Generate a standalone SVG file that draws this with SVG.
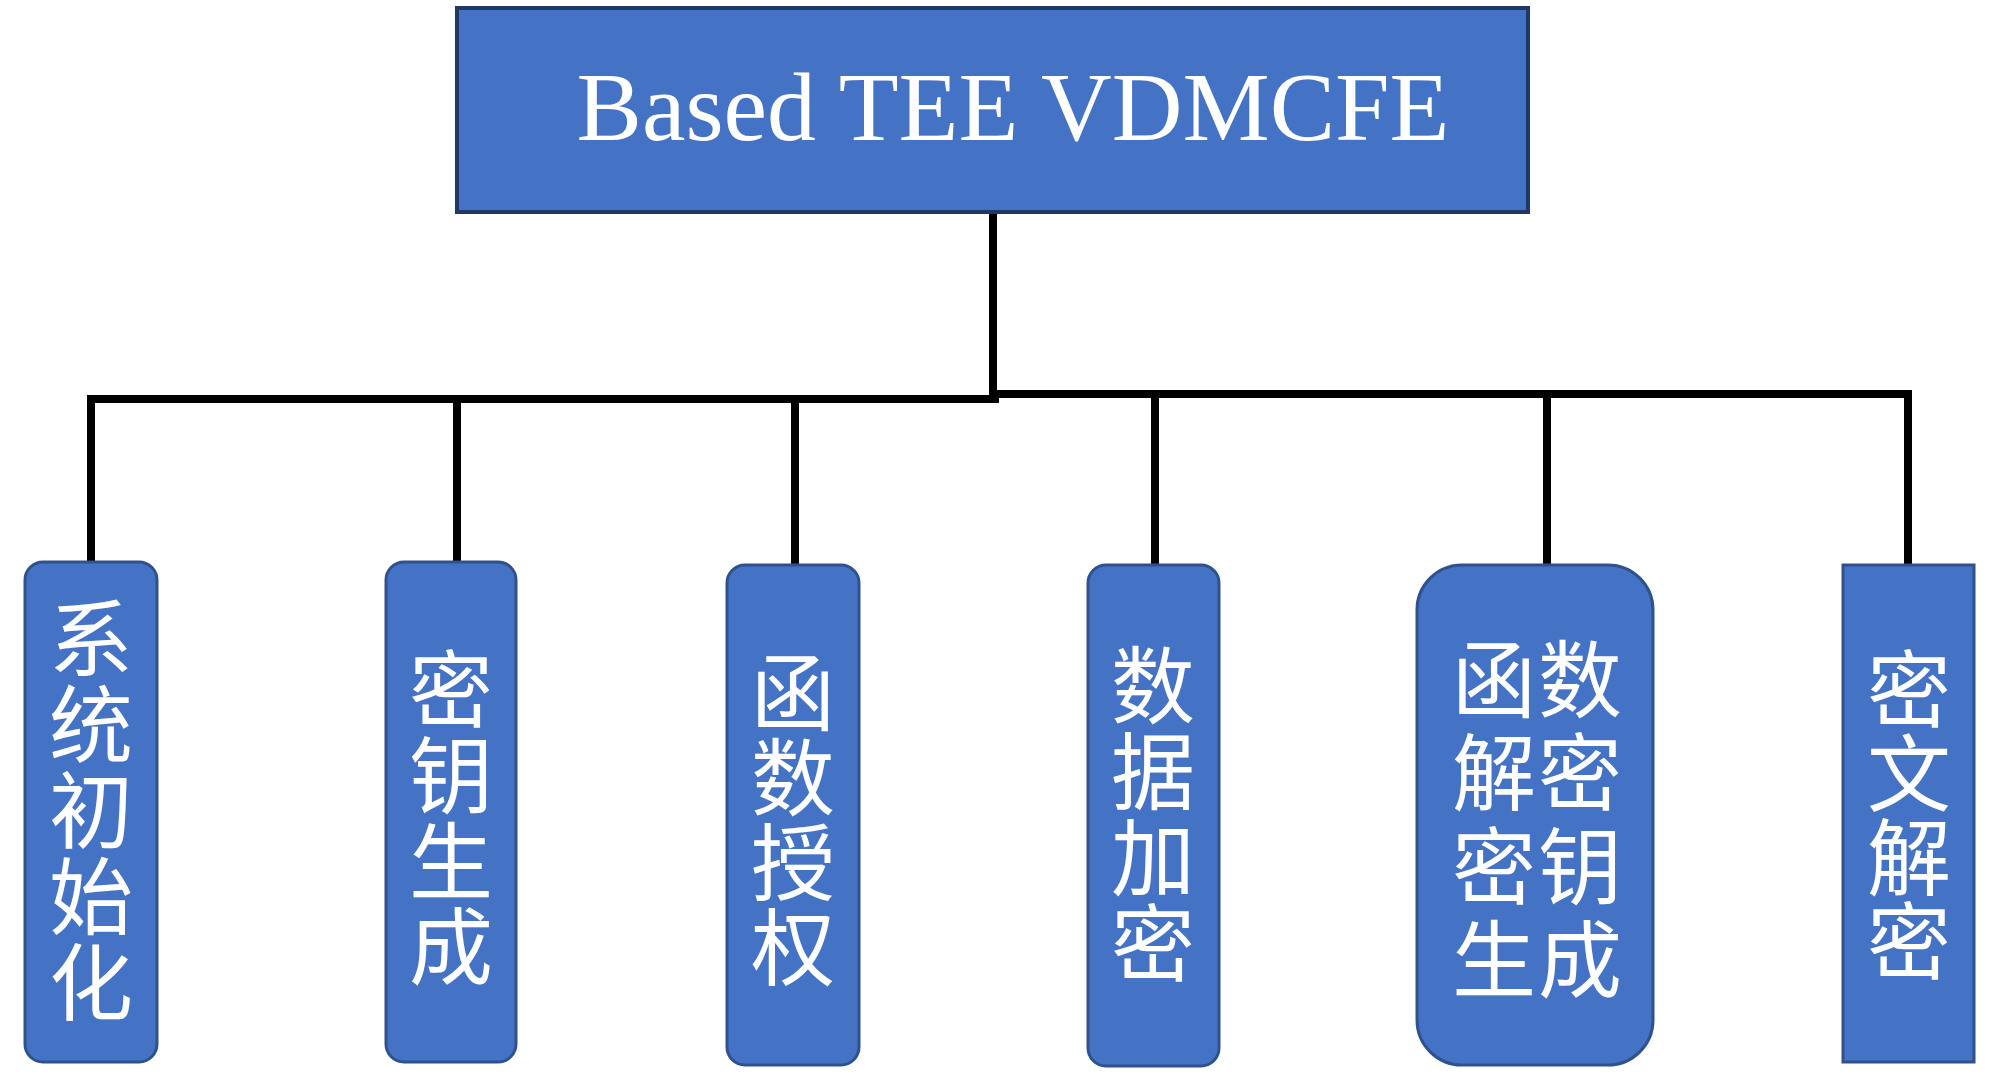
<svg xmlns="http://www.w3.org/2000/svg" width="2000" height="1079" viewBox="0 0 2000 1079">
<style>
.box{fill:#4472C4;stroke:#2F528F;stroke-width:3}
.top{fill:#4472C4;stroke:#1F3864;stroke-width:4}
.lbl{fill:#FFFFFF;font-family:"Liberation Serif","Noto Sans CJK SC",serif;font-size:84px;text-anchor:middle}
.title{fill:#FFFFFF;font-family:"Liberation Serif","Noto Sans CJK SC",serif;font-size:98px;text-anchor:middle}
.conn{stroke:#000000;stroke-width:8;fill:none;stroke-linecap:square}
</style>
<rect width="2000" height="1079" fill="#FFFFFF"/>
<g id="connectors">
<line class="conn" x1="993" y1="214" x2="993" y2="396"/>
<polyline class="conn" points="91,558 91,399 995,399"/>
<polyline class="conn" points="993,394 1908,394 1908,562"/>
<line class="conn" x1="457" y1="399" x2="457" y2="558"/>
<line class="conn" x1="795" y1="399" x2="795" y2="561"/>
<line class="conn" x1="1155" y1="394" x2="1155" y2="561"/>
<line class="conn" x1="1547" y1="394" x2="1547" y2="561"/>
</g>
<g id="root">
<rect class="top" x="457" y="8" width="1071" height="204"/>
<text class="title" x="1013" y="140">Based TEE VDMCFE</text>
</g>
<g id="n1">
<rect class="box" x="25" y="562" width="132" height="500" rx="18" ry="18"/>
<text class="lbl"><tspan x="91" y="670">系</tspan><tspan x="91" y="756">统</tspan><tspan x="91" y="842">初</tspan><tspan x="91" y="928">始</tspan><tspan x="91" y="1014">化</tspan></text>
</g>
<g id="n2">
<rect class="box" x="386" y="562" width="130" height="500" rx="18" ry="18"/>
<text class="lbl"><tspan x="451" y="721">密</tspan><tspan x="451" y="807">钥</tspan><tspan x="451" y="893">生</tspan><tspan x="451" y="978">成</tspan></text>
</g>
<g id="n3">
<rect class="box" x="727" y="565" width="132" height="500" rx="18" ry="18"/>
<text class="lbl"><tspan x="793" y="724">函</tspan><tspan x="793" y="809">数</tspan><tspan x="793" y="894">授</tspan><tspan x="793" y="979">权</tspan></text>
</g>
<g id="n4">
<rect class="box" x="1088" y="565" width="131" height="501" rx="18" ry="18"/>
<text class="lbl"><tspan x="1153" y="717">数</tspan><tspan x="1153" y="803">据</tspan><tspan x="1153" y="889">加</tspan><tspan x="1153" y="975">密</tspan></text>
</g>
<g id="n5">
<rect class="box" x="1417" y="565" width="236" height="500" rx="45" ry="45"/>
<text class="lbl"><tspan x="1494" y="711">函</tspan><tspan x="1494" y="804">解</tspan><tspan x="1494" y="898">密</tspan><tspan x="1494" y="991">生</tspan></text>
<text class="lbl"><tspan x="1580" y="711">数</tspan><tspan x="1580" y="804">密</tspan><tspan x="1580" y="898">钥</tspan><tspan x="1580" y="991">成</tspan></text>
</g>
<g id="n6">
<rect class="box" x="1843" y="565" width="131" height="497"/>
<text class="lbl"><tspan x="1909" y="721">密</tspan><tspan x="1909" y="805">文</tspan><tspan x="1909" y="889">解</tspan><tspan x="1909" y="973">密</tspan></text>
</g>
</svg>
